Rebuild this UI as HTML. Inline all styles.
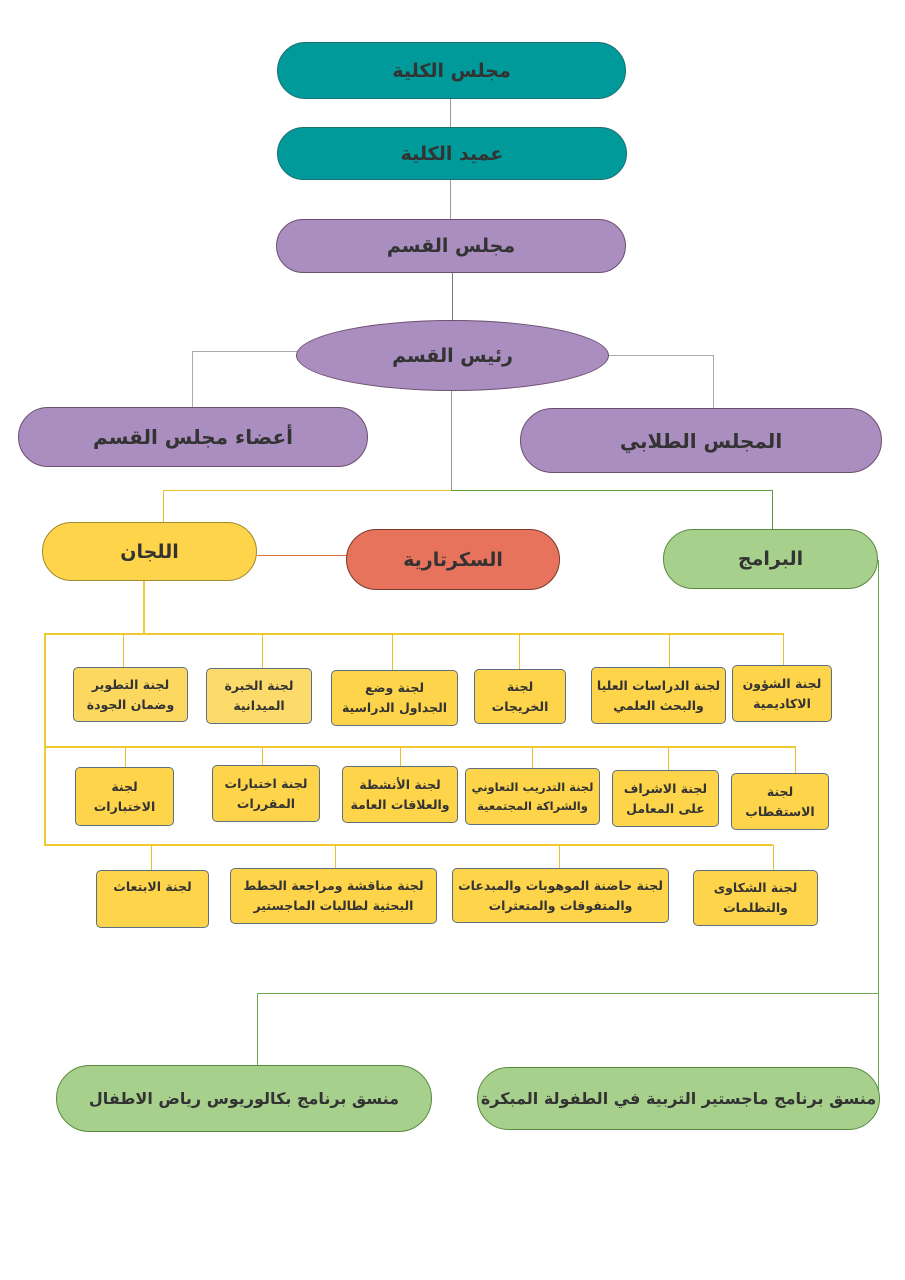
<!DOCTYPE html>
<html><head><meta charset="utf-8"><style>
body{margin:0;width:905px;height:1280px;background:#fff;position:relative;overflow:hidden;font-family:"DejaVu Sans",sans-serif}
.n{position:absolute;box-sizing:border-box;display:flex;align-items:center;justify-content:center;text-align:center;font-weight:bold;direction:rtl;color:#333}
.p{border-radius:40px;border:1.5px solid #6d4f70;font-size:19px}
.t{background:#009a9a;border-color:#1e6f6f}
.v{background:#a98ebf}
.y{background:#fdd44a;border-color:#a08a30}
.r{background:#e8735c;border-color:#7a3a2a}
.g{background:#a8d08d;border-color:#5a8a40}
.b{background:#fdd44a;border:1.5px solid #5d7080;border-radius:5px;font-size:12.5px;line-height:1.6;font-weight:bold}
.l{position:absolute}
</style></head><body>
<div class="l" style="left:450px;top:99px;width:1px;height:121px;background:#999"></div>
<div class="l" style="left:452px;top:273px;width:1px;height:48px;background:#777"></div>
<div class="l" style="left:192px;top:351px;width:105px;height:1px;background:#aaa"></div>
<div class="l" style="left:192px;top:351px;width:1px;height:57px;background:#aaa"></div>
<div class="l" style="left:609px;top:355px;width:104px;height:1px;background:#aaa"></div>
<div class="l" style="left:713px;top:355px;width:1px;height:54px;background:#aaa"></div>
<div class="l" style="left:451px;top:391px;width:1px;height:99px;background:#999"></div>
<div class="l" style="left:163px;top:490px;width:288px;height:1px;background:#e8c020"></div>
<div class="l" style="left:163px;top:490px;width:1px;height:33px;background:#e8c020"></div>
<div class="l" style="left:451px;top:490px;width:321px;height:1px;background:#5a9a40"></div>
<div class="l" style="left:772px;top:490px;width:1px;height:40px;background:#5a9a40"></div>
<div class="l" style="left:257px;top:555px;width:90px;height:1px;background:#e07040"></div>
<div class="l" style="left:878px;top:560px;width:1px;height:530px;background:#6aa84f"></div>
<div class="l" style="left:257px;top:993px;width:622px;height:1px;background:#6aa84f"></div>
<div class="l" style="left:257px;top:993px;width:1px;height:73px;background:#6aa84f"></div>
<div class="l" style="left:143px;top:581px;width:2px;height:53px;background:#f0c830"></div>
<div class="l" style="left:44px;top:633px;width:740px;height:2px;background:#f0c830"></div>
<div class="l" style="left:44px;top:633px;width:2px;height:213px;background:#f0c830"></div>
<div class="l" style="left:44px;top:746px;width:752px;height:2px;background:#f0c830"></div>
<div class="l" style="left:44px;top:844px;width:729px;height:2px;background:#f0c830"></div>
<div class="l" style="left:123px;top:634px;width:1px;height:34px;background:#e8c030"></div>
<div class="l" style="left:262px;top:634px;width:1px;height:34px;background:#e8c030"></div>
<div class="l" style="left:392px;top:634px;width:1px;height:36px;background:#e8c030"></div>
<div class="l" style="left:519px;top:634px;width:1px;height:35px;background:#e8c030"></div>
<div class="l" style="left:669px;top:634px;width:1px;height:33px;background:#e8c030"></div>
<div class="l" style="left:783px;top:634px;width:1px;height:31px;background:#e8c030"></div>
<div class="l" style="left:125px;top:747px;width:1px;height:20px;background:#e8c030"></div>
<div class="l" style="left:262px;top:747px;width:1px;height:18px;background:#e8c030"></div>
<div class="l" style="left:400px;top:747px;width:1px;height:19px;background:#e8c030"></div>
<div class="l" style="left:532px;top:747px;width:1px;height:21px;background:#e8c030"></div>
<div class="l" style="left:668px;top:747px;width:1px;height:23px;background:#e8c030"></div>
<div class="l" style="left:795px;top:747px;width:1px;height:26px;background:#e8c030"></div>
<div class="l" style="left:151px;top:845px;width:1px;height:25px;background:#e8c030"></div>
<div class="l" style="left:335px;top:845px;width:1px;height:23px;background:#e8c030"></div>
<div class="l" style="left:559px;top:845px;width:1px;height:23px;background:#e8c030"></div>
<div class="l" style="left:773px;top:845px;width:1px;height:25px;background:#e8c030"></div>

<div class="n p t" style="left:277px;top:42px;width:349px;height:57px">مجلس الكلية</div>
<div class="n p t" style="left:277px;top:127px;width:350px;height:53px">عميد الكلية</div>
<div class="n p v" style="left:276px;top:219px;width:350px;height:54px">مجلس القسم</div>
<div class="n p v" style="left:296px;top:320px;width:313px;height:71px;border-radius:50%">رئيس القسم</div>
<div class="n p v" style="left:18px;top:407px;width:350px;height:60px;font-size:20px">أعضاء مجلس القسم</div>
<div class="n p v" style="left:520px;top:408px;width:362px;height:65px;font-size:20px">المجلس الطلابي</div>
<div class="n p y" style="left:42px;top:522px;width:215px;height:59px">اللجان</div>
<div class="n p r" style="left:346px;top:529px;width:214px;height:61px">السكرتارية</div>
<div class="n p g" style="left:663px;top:529px;width:215px;height:60px">البرامج</div>
<div class="n p g" style="left:56px;top:1065px;width:376px;height:67px;font-size:16px">منسق برنامج بكالوريوس رياض الاطفال</div>
<div class="n p g" style="left:477px;top:1067px;width:403px;height:63px;font-size:16px">منسق برنامج ماجستير التربية في الطفولة المبكرة</div>

<div class="n b" style="left:73px;top:667px;width:115px;height:55px;background:#fdd860">لجنة التطوير<br>وضمان الجودة</div>
<div class="n b" style="left:206px;top:668px;width:106px;height:56px;background:#fddb6a">لجنة الخبرة<br>الميدانية</div>
<div class="n b" style="left:331px;top:670px;width:127px;height:56px">لجنة وضع<br>الجداول الدراسية</div>
<div class="n b" style="left:474px;top:669px;width:92px;height:55px">لجنة<br>الخريجات</div>
<div class="n b" style="left:591px;top:667px;width:135px;height:57px">لجنة الدراسات العليا<br>والبحث العلمي</div>
<div class="n b" style="left:732px;top:665px;width:100px;height:57px">لجنة الشؤون<br>الاكاديمية</div>

<div class="n b" style="left:75px;top:767px;width:99px;height:59px">لجنة<br>الاختبارات</div>
<div class="n b" style="left:212px;top:765px;width:108px;height:57px">لجنة اختبارات<br>المقررات</div>
<div class="n b" style="left:342px;top:766px;width:116px;height:57px">لجنة الأنشطة<br>والعلاقات العامة</div>
<div class="n b" style="left:465px;top:768px;width:135px;height:57px;font-size:11.5px">لجنة التدريب التعاوني<br>والشراكة المجتمعية</div>
<div class="n b" style="left:612px;top:770px;width:107px;height:57px">لجنة الاشراف<br>على المعامل</div>
<div class="n b" style="left:731px;top:773px;width:98px;height:57px">لجنة<br>الاستقطاب</div>

<div class="n b" style="left:96px;top:870px;width:113px;height:58px;align-items:flex-start;padding-top:6px">لجنة الابتعاث</div>
<div class="n b" style="left:230px;top:868px;width:207px;height:56px">لجنة مناقشة ومراجعة الخطط<br>البحثية لطالبات الماجستير</div>
<div class="n b" style="left:452px;top:868px;width:217px;height:55px">لجنة حاضنة الموهوبات والمبدعات<br>والمتفوقات والمتعثرات</div>
<div class="n b" style="left:693px;top:870px;width:125px;height:56px">لجنة الشكاوى<br>والتظلمات</div>
</body></html>
